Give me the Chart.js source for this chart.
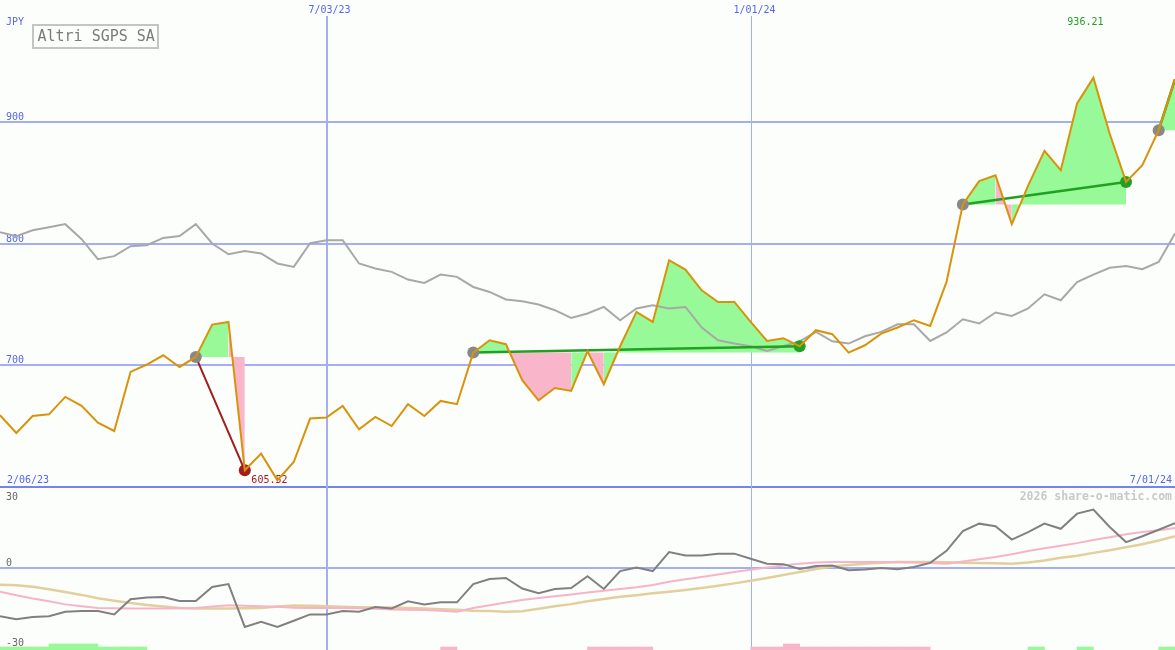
<!DOCTYPE html>
<html>
<head>
<meta charset="utf-8">
<title>Altri SGPS SA</title>
<script src="https://cdn.jsdelivr.net/npm/chart.js@4.4.1/dist/chart.umd.min.js"></script>
<style>
  html, body { margin: 0; padding: 0; background: #fcfefc; }
  #wrap { position: relative; width: 1175px; height: 650px; }
</style>
</head>
<body>
<div id="wrap"><canvas id="priceChart" width="1175" height="650"></canvas></div>
<script>
let weeks = ['2/13/23','2/20/23','2/27/23','3/06/23','3/13/23','3/20/23','3/27/23','4/03/23','4/10/23','4/17/23',
  '4/24/23','5/01/23','5/08/23','5/15/23','5/22/23','5/29/23','6/05/23','6/12/23','6/19/23','6/26/23',
  '7/03/23','7/10/23','7/17/23','7/24/23','7/31/23','8/07/23','8/14/23','8/21/23','8/28/23','9/04/23',
  '9/11/23','9/18/23','9/25/23','10/02/23','10/09/23','10/16/23','10/23/23','10/30/23','11/06/23','11/13/23',
  '11/20/23','11/27/23','12/04/23','12/11/23','12/18/23','12/25/23','1/01/24','1/08/24','1/15/24','1/22/24',
  '1/29/24','2/05/24','2/12/24','2/19/24','2/26/24','3/04/24','3/11/24','3/18/24','3/25/24','4/01/24',
  '4/08/24','4/15/24','4/22/24','4/29/24','5/06/24','5/13/24','5/20/24','5/27/24','6/03/24','6/10/24',
  '6/17/24','6/24/24','7/01/24'];

// share price, JPY
let price = [658.9, 644.4, 658.3, 659.7, 674.0, 666.6, 652.9, 646.0, 694.5, 700.6,
  708.2, 698.6, 706.8, 733.4, 735.6, 613.7, 627.4, 605.52, 620.5, 656.2,
  657.0, 666.6, 647.4, 657.5, 650.1, 668.0, 658.3, 670.7, 668.0, 710.4,
  720.5, 717.3, 687.7, 671.2, 681.3, 678.9, 711.5, 684.4, 715.6, 743.8,
  735.6, 786.3, 778.6, 761.6, 752.0, 752.0, 735.6, 720.0, 722.2, 715.6,
  728.8, 725.5, 710.4, 716.4, 726.0, 731.0, 737.0, 732.3, 768.4, 832.1,
  851.2, 856.1, 815.9, 847.5, 876.1, 860.2, 915.0, 936.21, 890.1, 850.6,
  864.3, 893.1, 935.0];

// market comparison line
let market = [809.3, 806.0, 810.9, 813.4, 815.9, 803.5, 787.1, 789.6, 797.8, 798.6,
  804.6, 806.2, 815.9, 800.0, 791.2, 793.9, 791.8, 783.6, 780.8, 800.2,
  802.7, 802.7, 783.6, 779.5, 776.7, 770.4, 767.6, 774.5, 772.6, 764.3,
  760.2, 754.0, 752.6, 749.9, 745.2, 738.9, 742.5, 747.9, 737.0, 746.6,
  749.3, 746.6, 747.9, 731.0, 720.5, 717.8, 715.6, 711.8, 715.6, 719.7,
  727.4, 719.7, 717.8, 723.8, 727.4, 733.7, 733.7, 720.0, 726.9, 737.8,
  734.3, 743.3, 740.5, 746.6, 758.3, 753.4, 768.4, 774.5, 780.0, 781.6,
  778.9, 784.9, 808.2];

// lower panel
let oscillator = [-18.8, -20.0, -19.1, -18.8, -17.1, -16.8, -16.8, -18.1, -12.2, -11.5,
  -11.3, -12.9, -12.9, -7.4, -6.3, -23.0, -21.0, -23.0, -20.6, -18.1,
  -18.1, -16.8, -17.1, -15.2, -15.8, -13.0, -14.2, -13.4, -13.4, -6.3,
  -4.3, -3.9, -8.0, -9.8, -8.2, -7.8, -3.2, -8.2, -1.2, 0.2,
  -1.2, 6.2, 4.9, 4.9, 5.6, 5.6, 3.6, 1.7, 1.5, -0.4,
  0.8, 1.0, -0.9, -0.6, 0.0, -0.5, 0.4, 2.0, 6.7, 14.4,
  17.3, 16.3, 11.1, 14.0, 17.3, 15.3, 21.2, 22.8, 16.0, 10.1,
  12.4, 14.9, 17.5];

let oscFast = [-9.3, -10.6, -11.9, -13.0, -14.2, -14.9, -15.6, -15.7, -15.8, -15.8,
  -15.8, -15.7, -15.6, -15.0, -14.5, -14.7, -14.9, -15.1, -15.5, -15.6,
  -15.6, -15.6, -15.7, -15.9, -16.2, -16.3, -16.4, -16.7, -17.1, -15.6,
  -14.5, -13.5, -12.5, -11.7, -11.0, -10.3, -9.6, -8.9, -8.2, -7.5,
  -6.6, -5.4, -4.4, -3.5, -2.5, -1.6, -0.7, 0.2, 1.0, 1.7,
  2.1, 2.3, 2.3, 2.3, 2.3, 2.2, 2.1, 1.9, 1.7, 2.5,
  3.4, 4.3, 5.4, 6.6, 7.7, 8.7, 9.7, 10.9, 12.0, 13.2,
  14.0, 14.7, 15.6];

let oscSlow = [-6.5, -6.7, -7.3, -8.3, -9.4, -10.5, -11.8, -12.8, -13.7, -14.4,
  -15.0, -15.6, -15.8, -15.8, -15.8, -15.7, -15.6, -15.0, -14.6, -14.7,
  -14.9, -15.1, -15.3, -15.4, -15.4, -15.6, -15.8, -16.1, -16.3, -16.7,
  -16.8, -17.1, -16.9, -15.9, -14.9, -14.1, -13.0, -12.1, -11.2, -10.6,
  -9.9, -9.3, -8.6, -7.8, -6.9, -6.0, -5.0, -3.9, -2.7, -1.6,
  -0.4, 0.6, 1.2, 1.7, 2.0, 2.3, 2.3, 2.3, 2.2, 2.0,
  1.9, 1.8, 1.7, 2.1, 2.9, 4.0, 4.8, 5.9, 6.9, 8.1,
  9.3, 10.7, 12.4];

// signal strip per week interval: +green / -pink, 2 = strong
let strip = [1, 1, 1, 2, 2, 2, 1, 1, 1, 0, 0, 0, 0, 0, 0, 0, 0, 0, 0, 0, 0, 0, 0, 0, 0, 0, 0,
  -1, 0, 0, 0, 0, 0, 0, 0, 0, -1, -1, -1, -1, 0, 0, 0, 0, 0, 0,
  -1, -1, -2, -1, -1, -1, -1, -1, -1, -1, -1, 0, 0, 0, 0, 0, 0, 1, 0, 0, 1, 0, 0, 0, 0, 1];

let tradeEntry = [12, 29, 59, 71];
let tradeExit = [15, 49, 69, 72];
let tradeOpen = [false, false, false, true];

let priceTicks = [600, 700, 800, 900];
let priceLabels = [700, 800, 900];
let oscTicks = [30, 0, -30];
let dateMarks = [20, 46];
let rangeLabels = ['2/06/23', '7/01/24'];

let colors = {
    price: '#d9930b',
    market: '#a8a8a8',
    osc: '#808080',
    oscFast: '#f7b3c9',
    oscSlow: '#e3cf9d',
    gain: '#97f997',
    loss: '#f9b6cb',
    win: '#22a022',
    lose: '#a31c1c',
    entry: '#888888',
    grid: '#a3aef3',
    gridDark: '#7383ef',
    label: '#5566ee',
    dim: '#666666'
};

let mono = '"DejaVu Sans Mono", monospace';

function tradeFill(k) {
    let base = price[tradeEntry[k]];
    return {
        data: price.map((v, i) => (i >= tradeEntry[k] && i <= tradeExit[k]) ? v : null),
        borderWidth: 0,
        borderColor: 'rgba(0,0,0,0)',
        backgroundColor: colors.gain,
        pointRadius: 0,
        fill: {target: {value: base}},
        segment: {
            backgroundColor: ctx => price[ctx.p1DataIndex] >= base ? colors.gain : colors.loss
        },
        yAxisID: 'y',
        order: 4
    };
}

function tradeLine(k) {
    let won = price[tradeExit[k]] >= price[tradeEntry[k]];
    let lineColor = won ? colors.win : colors.lose;
    return {
        data: price.map((v, i) => (i === tradeEntry[k] || i === tradeExit[k]) ? v : null),
        spanGaps: true,
        borderColor: lineColor,
        borderWidth: won ? 2.5 : 2,
        pointRadius: ctx => (ctx.dataIndex === tradeExit[k] && tradeOpen[k]) ? 0 : 6,
        pointBorderWidth: 0,
        pointBackgroundColor: ctx => ctx.dataIndex === tradeEntry[k] ? colors.entry : lineColor,
        fill: false,
        yAxisID: 'y',
        order: 2
    };
}

let overlay = {
    id: 'overlay',
    beforeDatasetsDraw(chart) {
        let ctx = chart.ctx;
        let xs = chart.scales.x, ys = chart.scales.y, ys2 = chart.scales.y2;
        let area = chart.chartArea;
        ctx.save();

        ctx.font = '10px ' + mono;
        ctx.fillStyle = colors.label;
        ctx.textBaseline = 'alphabetic';
        dateMarks.forEach((idx, k) => {
            let px = xs.getPixelForValue(idx);
            let lx = k === 0 ? Math.round(px + 0.5) : Math.round(px) + 0.5;
            ctx.strokeStyle = colors.grid;
            ctx.lineWidth = k === 0 ? 2 : 1;
            ctx.beginPath();
            ctx.moveTo(lx, 16);
            ctx.lineTo(lx, area.bottom);
            ctx.stroke();
            ctx.textAlign = 'center';
            ctx.fillText(weeks[idx], Math.round(px) + 3.5, 13);
        });

        ctx.textAlign = 'left';
        ctx.fillText('JPY', 6, 25);
        priceLabels.forEach(v => ctx.fillText(String(v), 6, ys.getPixelForValue(v) - 2));
        let bottomY = ys.getPixelForValue(ys.min) - 4;
        ctx.fillText(rangeLabels[0], 7, bottomY);
        ctx.textAlign = 'right';
        ctx.fillText(rangeLabels[1], 1172, bottomY);

        ctx.fillStyle = colors.dim;
        ctx.textAlign = 'left';
        oscTicks.forEach(v => {
            let py = ys2.getPixelForValue(v);
            if (v > 0) {
                ctx.textBaseline = 'top';
                ctx.fillText(String(v), 6, py + 1);
            } else {
                ctx.textBaseline = 'alphabetic';
                ctx.fillText(String(v), 6, v === 0 ? py - 2 : py + 1);
            }
        });
        ctx.textBaseline = 'alphabetic';

        // high / low marks
        let hi = price.indexOf(Math.max(...price));
        let lo = price.indexOf(Math.min(...price));
        ctx.textAlign = 'center';
        ctx.fillStyle = colors.win;
        ctx.fillText(price[hi].toFixed(2), xs.getPixelForValue(hi) - 8, 25);
        ctx.fillStyle = colors.lose;
        ctx.fillText(price[lo].toFixed(2), xs.getPixelForValue(lo) - 8, bottomY);

        ctx.font = 'bold 11.5px ' + mono;
        ctx.fillStyle = '#c8c8c8';
        ctx.textAlign = 'right';
        ctx.fillText('2026 share-o-matic.com', 1172, ys2.top + 13);

        ctx.strokeStyle = '#c4c4c4';
        ctx.lineWidth = 2;
        ctx.strokeRect(33, 25, 125, 23);
        ctx.font = '15px ' + mono;
        ctx.fillStyle = '#7a7a7a';
        ctx.textAlign = 'left';
        ctx.fillText('Altri SGPS SA', 37.5, 41);

        ctx.restore();
    }
};

let datasets = [
    {
        data: price,
        borderColor: colors.price,
        borderWidth: 2,
        pointRadius: 0,
        fill: false,
        yAxisID: 'y',
        order: 1
    },
    {
        data: market,
        borderColor: colors.market,
        borderWidth: 2,
        pointRadius: 0,
        fill: false,
        yAxisID: 'y',
        order: 3
    },
    {
        data: oscillator,
        borderColor: colors.osc,
        borderWidth: 2,
        pointRadius: 0,
        fill: false,
        yAxisID: 'y2',
        order: 1
    },
    {
        data: oscFast,
        borderColor: colors.oscFast,
        borderWidth: 2,
        pointRadius: 0,
        fill: false,
        yAxisID: 'y2',
        order: 2
    },
    {
        data: oscSlow,
        borderColor: colors.oscSlow,
        borderWidth: 2.5,
        pointRadius: 0,
        fill: false,
        yAxisID: 'y2',
        order: 3
    }
];

let oscMin = -32.0, oscMax = 31.6, stripUnit = 1.17;
datasets.push({
    type: 'bar',
    data: strip.map((v, i) => ({x: i + 0.5, y: v ? [oscMin, oscMin + stripUnit * Math.abs(v)] : null})),
    backgroundColor: strip.map(v => v > 0 ? colors.gain : colors.loss),
    borderWidth: 0,
    grouped: false,
    barPercentage: 1,
    categoryPercentage: 1,
    xAxisID: 'xb',
    yAxisID: 'y2',
    order: 4
});

tradeEntry.forEach((e, k) => {
    datasets.push(tradeFill(k));
    datasets.push(tradeLine(k));
});

let chart = new Chart(document.getElementById('priceChart').getContext('2d'), {
    type: 'line',
    data: {labels: weeks, datasets: datasets},
    plugins: [overlay],
    options: {
        responsive: false,
        animation: false,
        devicePixelRatio: 1,
        events: [],
        layout: {padding: 0, autoPadding: false},
        elements: {line: {tension: 0}},
        plugins: {legend: {display: false}, tooltip: {enabled: false}},
        scales: {
            x: {
                type: 'category',
                display: false,
                offset: false
            },
            xb: {
                type: 'linear',
                display: false,
                offset: false,
                min: 0,
                max: weeks.length - 1
            },
            y: {
                type: 'linear',
                position: 'left',
                stack: 'panels',
                stackWeight: 487,
                weight: 2,
                min: 600,
                max: 1000,
                afterBuildTicks: s => { s.ticks = priceTicks.map(v => ({value: v})); },
                ticks: {display: false},
                border: {display: false},
                grid: {
                    drawTicks: false,
                    lineWidth: 2,
                    color: c => c.tick && c.tick.value === 600 ? colors.gridDark : colors.grid
                }
            },
            y2: {
                type: 'linear',
                position: 'left',
                stack: 'panels',
                stackWeight: 163,
                weight: 1,
                min: oscMin,
                max: oscMax,
                afterBuildTicks: s => { s.ticks = [{value: 0}]; },
                ticks: {display: false},
                border: {display: false},
                grid: {drawTicks: false, lineWidth: 2, color: colors.grid}
            }
        }
    }
});
</script>
</body>
</html>
